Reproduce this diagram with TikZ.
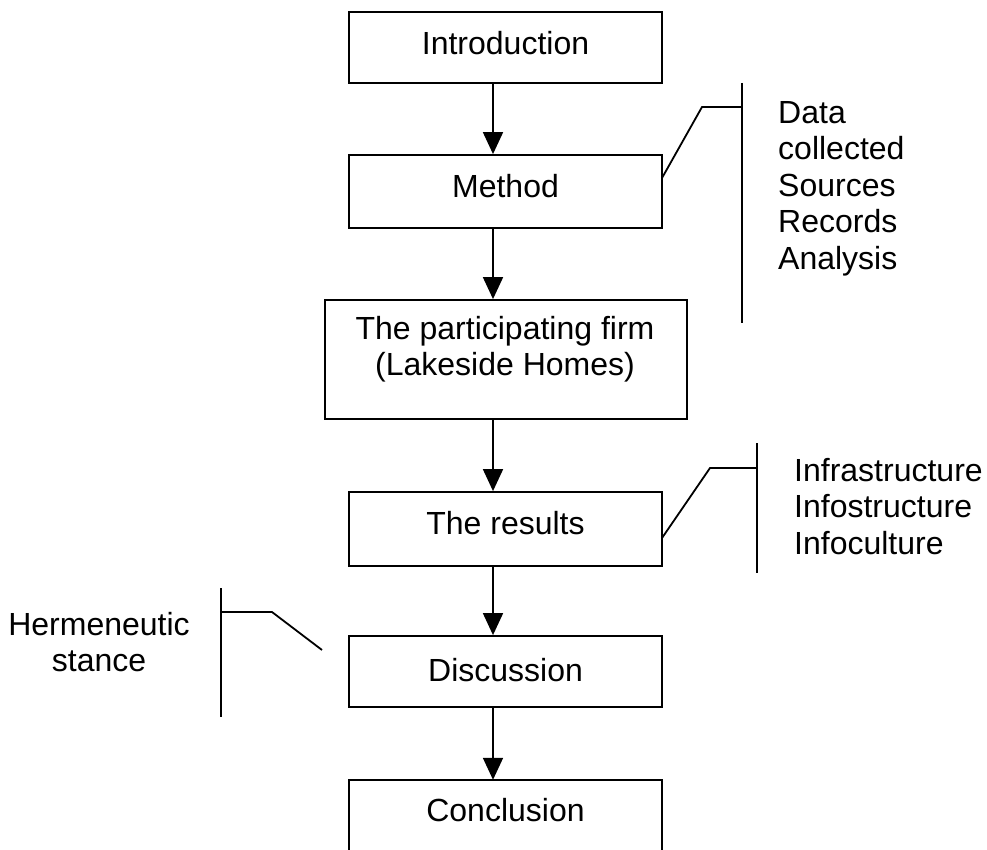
\documentclass[tikz,border=0pt]{standalone}
\usepackage{fontspec}
\setmainfont{Liberation Sans}
\usetikzlibrary{arrows.meta}
\begin{document}
\begin{tikzpicture}[x=1pt,y=-1pt,
  every node/.style={font=\fontsize{32}{36.5}\selectfont, inner sep=0pt},
  box/.style={draw, line width=1.8pt, minimum width=313pt, text height=23pt},
  flow/.style={line width=1.8pt, -{Triangle[width=20pt,length=22pt]}},
  callout/.style={line width=1.8pt},
]
\useasboundingbox (0,0) rectangle (987,850);

% main sequence of chapters
\node[box, minimum height=71pt, text depth=9pt]  (intro)   at (505.5,47.5)  {Introduction};
\node[box, minimum height=73pt, text depth=11pt] (method)  at (505.5,191.5) {Method};
\node[box, minimum width=362pt, minimum height=119pt] (firm) at (506,359.5) {};
\node[anchor=north, align=center] (firmtext) at (505,316) {The participating firm\\(Lakeside Homes)};
\node[box, minimum height=74pt, text depth=12pt] (results) at (505.5,529)   {The results};
\node[box, minimum height=71pt, text depth=4pt]  (discuss) at (505.5,671.5) {Discussion};
\node[minimum width=313pt, minimum height=70pt, text height=23pt, text depth=10pt] (concl) at (505.5,815) {Conclusion};
\draw[callout] (concl.south west) -- (concl.north west) -- (concl.north east) -- (concl.south east);

% arrows between the chapters
\coordinate (ax) at (493,0);
\draw[flow] (intro.south -| ax)   -- (method.north -| ax);
\draw[flow] (method.south -| ax)  -- (firm.north -| ax);
\draw[flow] (firm.south -| ax)    -- (results.north -| ax);
\draw[flow] (results.south -| ax) -- (discuss.north -| ax);
\draw[flow] (discuss.south -| ax) -- (concl.north -| ax);

% method details
\coordinate (mA) at (662,178);
\coordinate (kA) at (702,107);
\coordinate (barAtop) at (742,83);
\coordinate (barAbot) at (742,323);
\draw[callout] (mA) -- (kA) -- (kA -| barAtop);
\draw[callout] (barAtop) -- (barAbot);
\node[anchor=north west, align=left] (dataitems) at (778,101)
  {Data\\collected\\Sources\\Records\\Analysis};

% results details
\coordinate (mB) at (662,538);
\coordinate (kB) at (710,468);
\coordinate (barBtop) at (757,443);
\coordinate (barBbot) at (757,573);
\draw[callout] (mB) -- (kB) -- (kB -| barBtop);
\draw[callout] (barBtop) -- (barBbot);
\node[anchor=north west, align=left] (infoitems) at (794,458)
  {Infrastructure\\Infostructure\\Infoculture};

% discussion stance
\coordinate (barCtop) at (221,588);
\coordinate (barCbot) at (221,717);
\coordinate (kC) at (272,612);
\coordinate (eC) at (322,650);
\draw[callout] (barCtop) -- (barCbot);
\draw[callout] (kC -| barCtop) -- (kC) -- (eC);
\node[anchor=north, align=center] (herm) at (99,612) {Hermeneutic\\stance};
\end{tikzpicture}
\end{document}
